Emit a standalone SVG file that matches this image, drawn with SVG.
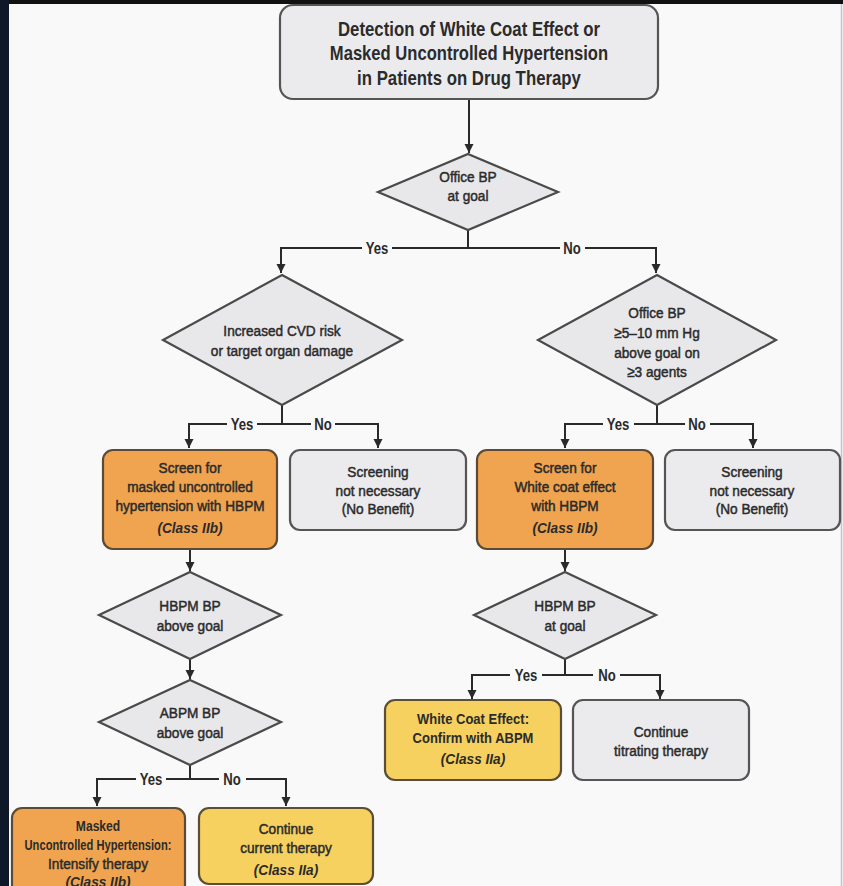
<svg xmlns="http://www.w3.org/2000/svg" width="843" height="886" viewBox="0 0 843 886">
<style>
text{font-family:"Liberation Sans",Arial,sans-serif;fill:#2b2b2b;text-anchor:middle}
.t{font-size:20px;font-weight:bold}
.l{font-size:15.5px;stroke:#2b2b2b;stroke-width:0.5}
.b{font-size:15.5px;font-weight:bold}
.c{font-size:15.5px;font-weight:bold;font-style:italic}
.yn{font-size:16px;font-weight:bold}
.gray{fill:#ebebee;stroke:#555;stroke-width:2.2}
.org{fill:#f0a44f;stroke:#5a4a36;stroke-width:2.2}
.yel{fill:#f6d15f;stroke:#5a4e36;stroke-width:2.2}
.dia{fill:#e8e8eb;stroke:#4a4a4a;stroke-width:2.2}
.ln{stroke:#2a2a2a;stroke-width:2;fill:none}
.ar{stroke:#2a2a2a;stroke-width:2;fill:none;marker-end:url(#ah)}
</style>
<defs>
<marker id="ah" viewBox="0 0 10 10" refX="10" refY="5" markerUnits="userSpaceOnUse" markerWidth="9" markerHeight="10" orient="auto">
<path d="M0,0 L10,5 L0,10 z" fill="#2a2a2a"/>
</marker>
</defs>
<rect x="0" y="0" width="843" height="886" fill="#f9f9fa"/>
<rect x="0" y="0" width="843" height="4" fill="#111"/>
<rect x="0" y="0" width="9" height="886" fill="#0f1828"/>
<line x1="841.5" y1="4" x2="841.5" y2="886" stroke="#c4c4c6" stroke-width="1.5"/>

<g id="connectors">
<line class="ar" x1="469" y1="99" x2="469" y2="153"/>
<line class="ln" x1="468" y1="230" x2="468" y2="248"/>
<polyline class="ln" points="362,248 281,248 281,252"/>
<line class="ar" x1="281" y1="250" x2="281" y2="273"/>
<line class="ln" x1="392" y1="248" x2="560" y2="248"/>
<polyline class="ln" points="585,248 656,248 656,252"/>
<line class="ar" x1="656" y1="250" x2="656" y2="273"/>
<text class="yn" transform="translate(377,254) scale(.82,1)">Yes</text>
<text class="yn" transform="translate(572,254) scale(.82,1)">No</text>

<line class="ln" x1="282" y1="405" x2="282" y2="424"/>
<polyline class="ln" points="227,424 189,424 189,428"/>
<line class="ar" x1="189" y1="426" x2="189" y2="448"/>
<line class="ln" x1="257" y1="424" x2="311" y2="424"/>
<polyline class="ln" points="335,424 378,424 378,428"/>
<line class="ar" x1="378" y1="426" x2="378" y2="448"/>
<text class="yn" transform="translate(242,430) scale(.82,1)">Yes</text>
<text class="yn" transform="translate(323,430) scale(.82,1)">No</text>

<line class="ln" x1="657" y1="405" x2="657" y2="424"/>
<polyline class="ln" points="603,424 565,424 565,428"/>
<line class="ar" x1="565" y1="426" x2="565" y2="448"/>
<line class="ln" x1="634" y1="424" x2="685" y2="424"/>
<polyline class="ln" points="710,424 753,424 753,428"/>
<line class="ar" x1="753" y1="426" x2="753" y2="448"/>
<text class="yn" transform="translate(618,430) scale(.82,1)">Yes</text>
<text class="yn" transform="translate(697,430) scale(.82,1)">No</text>

<line class="ar" x1="190" y1="549" x2="190" y2="571"/>
<line class="ar" x1="190" y1="659" x2="190" y2="679"/>
<line class="ar" x1="565" y1="549" x2="565" y2="571"/>

<line class="ln" x1="565" y1="659" x2="565" y2="675"/>
<polyline class="ln" points="510,675 472,675 472,679"/>
<line class="ar" x1="472" y1="677" x2="472" y2="699"/>
<line class="ln" x1="542" y1="675" x2="593" y2="675"/>
<polyline class="ln" points="620,675 660,675 660,679"/>
<line class="ar" x1="660" y1="677" x2="660" y2="699"/>
<text class="yn" transform="translate(526,681) scale(.82,1)">Yes</text>
<text class="yn" transform="translate(607,681) scale(.82,1)">No</text>

<line class="ln" x1="190" y1="765" x2="190" y2="779"/>
<polyline class="ln" points="136,779 97,779 97,783"/>
<line class="ar" x1="97" y1="781" x2="97" y2="806"/>
<line class="ln" x1="166" y1="779" x2="219" y2="779"/>
<polyline class="ln" points="246,779 286,779 286,783"/>
<line class="ar" x1="286" y1="781" x2="286" y2="806"/>
<text class="yn" transform="translate(151,785) scale(.82,1)">Yes</text>
<text class="yn" transform="translate(232,785) scale(.82,1)">No</text>
</g>

<g id="title">
<rect class="gray" x="280" y="5" width="378" height="94" rx="13"/>
<text class="t" transform="translate(469,36) scale(.84,1)">Detection of White Coat Effect or</text>
<text class="t" transform="translate(469,60) scale(.83,1)">Masked Uncontrolled Hypertension</text>
<text class="t" transform="translate(469,85) scale(.84,1)">in Patients on Drug Therapy</text>
</g>

<g id="d-office">
<polygon class="dia" points="468,154 558,192 468,230 378,192"/>
<text class="l" transform="translate(468,182) scale(.88,1)">Office BP</text>
<text class="l" transform="translate(468,201) scale(.88,1)">at goal</text>
</g>

<g id="d-cvd">
<polygon class="dia" points="282,275 402,340 282,405 163,340"/>
<text class="l" transform="translate(282,336) scale(.88,1)">Increased CVD risk</text>
<text class="l" transform="translate(282,356) scale(.88,1)">or target organ damage</text>
</g>

<g id="d-office2">
<polygon class="dia" points="657,275 776,340 657,405 538,340"/>
<text class="l" transform="translate(657,318) scale(.88,1)">Office BP</text>
<text class="l" transform="translate(657,338) scale(.88,1)">≥5–10 mm Hg</text>
<text class="l" transform="translate(657,358) scale(.88,1)">above goal on</text>
<text class="l" transform="translate(657,377) scale(.88,1)">≥3 agents</text>
</g>

<g id="b-screen-masked">
<rect class="org" x="103" y="450" width="174" height="99" rx="10"/>
<text class="l" transform="translate(190,473) scale(.88,1)">Screen for</text>
<text class="l" transform="translate(190,492) scale(.88,1)">masked uncontrolled</text>
<text class="l" transform="translate(190,511) scale(.88,1)">hypertension with HBPM</text>
<text class="c" transform="translate(190,533) scale(.88,1)">(Class IIb)</text>
</g>

<g id="b-noben1">
<rect class="gray" x="290" y="450" width="176" height="80" rx="10"/>
<text class="l" transform="translate(378,477) scale(.88,1)">Screening</text>
<text class="l" transform="translate(378,496) scale(.88,1)">not necessary</text>
<text class="l" transform="translate(378,514) scale(.88,1)">(No Benefit)</text>
</g>

<g id="b-screen-white">
<rect class="org" x="477" y="450" width="176" height="99" rx="10"/>
<text class="l" transform="translate(565,473) scale(.88,1)">Screen for</text>
<text class="l" transform="translate(565,492) scale(.88,1)">White coat effect</text>
<text class="l" transform="translate(565,511) scale(.88,1)">with HBPM</text>
<text class="c" transform="translate(565,533) scale(.88,1)">(Class IIb)</text>
</g>

<g id="b-noben2">
<rect class="gray" x="665" y="450" width="175" height="80" rx="10"/>
<text class="l" transform="translate(752,477) scale(.88,1)">Screening</text>
<text class="l" transform="translate(752,496) scale(.88,1)">not necessary</text>
<text class="l" transform="translate(752,514) scale(.88,1)">(No Benefit)</text>
</g>

<g id="d-hbpm-above">
<polygon class="dia" points="190,572 281,615 190,659 99,615"/>
<text class="l" transform="translate(190,611) scale(.88,1)">HBPM BP</text>
<text class="l" transform="translate(190,631) scale(.88,1)">above goal</text>
</g>

<g id="d-hbpm-goal">
<polygon class="dia" points="565,572 656,615 565,659 474,615"/>
<text class="l" transform="translate(565,611) scale(.88,1)">HBPM BP</text>
<text class="l" transform="translate(565,631) scale(.88,1)">at goal</text>
</g>

<g id="d-abpm">
<polygon class="dia" points="190,680 281,722 190,765 99,722"/>
<text class="l" transform="translate(190,718) scale(.88,1)">ABPM BP</text>
<text class="l" transform="translate(190,738) scale(.88,1)">above goal</text>
</g>

<g id="b-whitecoat">
<rect class="yel" x="385" y="700" width="176" height="80" rx="10"/>
<text class="b" transform="translate(473,724) scale(.84,1)">White Coat Effect:</text>
<text class="b" transform="translate(473,743) scale(.84,1)">Confirm with ABPM</text>
<text class="c" transform="translate(473,764) scale(.88,1)">(Class IIa)</text>
</g>

<g id="b-titrating">
<rect class="gray" x="573" y="700" width="176" height="80" rx="10"/>
<text class="l" transform="translate(661,737) scale(.88,1)">Continue</text>
<text class="l" transform="translate(661,756) scale(.88,1)">titrating therapy</text>
</g>

<g id="b-masked">
<rect class="org" x="12" y="808" width="173" height="100" rx="10"/>
<text class="b" transform="translate(98,831) scale(.78,1)">Masked</text>
<text class="b" transform="translate(98,850) scale(.72,1)">Uncontrolled Hypertension:</text>
<text class="l" transform="translate(98,869) scale(.88,1)">Intensify therapy</text>
<text class="c" transform="translate(98,887) scale(.88,1)">(Class IIb)</text>
</g>

<g id="b-continue">
<rect class="yel" x="199" y="808" width="174" height="76" rx="10"/>
<text class="l" transform="translate(286,834) scale(.88,1)">Continue</text>
<text class="l" transform="translate(286,853) scale(.88,1)">current therapy</text>
<text class="c" transform="translate(286,875) scale(.88,1)">(Class IIa)</text>
</g>
</svg>
